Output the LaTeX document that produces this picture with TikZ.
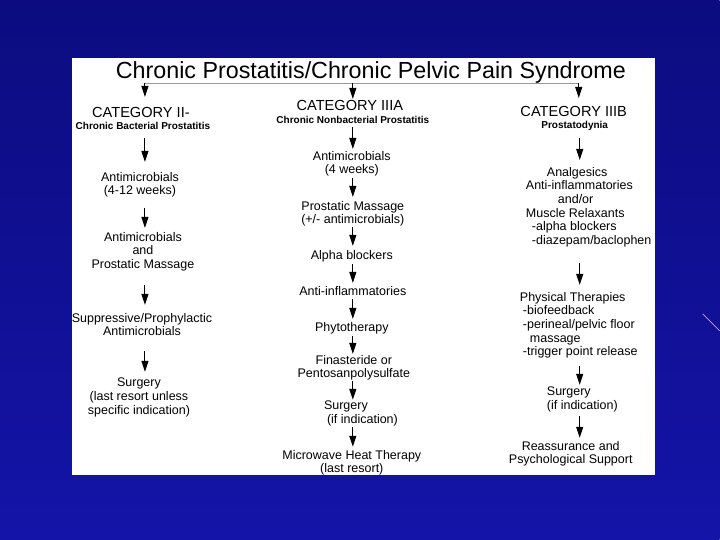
\documentclass[tikz,border=0pt]{standalone}
\usepackage{fontspec}
\setmainfont{Liberation Sans}
\usetikzlibrary{arrows.meta}

\definecolor{slidedark}{RGB}{12,12,128}
\definecolor{slidelight}{RGB}{20,20,168}
\definecolor{streak}{RGB}{205,160,235}

\begin{document}
\begin{tikzpicture}[x=1pt,y=-1pt,
    txt/.style={inner sep=0pt, anchor=north, align=center, font=\fontsize{12.5}{13.7}\selectfont},
    ltxt/.style={txt, anchor=north west, align=left},
    cat/.style={inner sep=0pt, anchor=north, font=\fontsize{14.6}{16}\selectfont},
    sub/.style={inner sep=0pt, anchor=north, font=\fontsize{10}{12}\selectfont\bfseries},
    arr/.style={line width=1.1pt, -{Triangle[length=11pt,width=7pt]}}]
    % slide background and white panel
    \shade [top color=slidedark, bottom color=slidelight] (0,0) rectangle (720,540);
    \draw [streak, line width=0.7pt] (703,314) -- (720,331);
    \fill [white] (72,58) rectangle (655,475);
    \useasboundingbox (0,0) rectangle (720,540);
    \begin{scope}
    \clip (72,58) rectangle (655,475);
    \node [anchor=base, font=\fontsize{23.3}{25}\selectfont] (title) at (371,79) {Chronic Prostatitis/Chronic Pelvic Pain Syndrome};
    \coordinate (c1) at (145,83);
    \coordinate (c2) at (353,83);
    \coordinate (c3) at (579,83);
    \coordinate (k1) at (145,0);
    \coordinate (k2) at (353,0);
    \coordinate (k3) at (580,0);
    \draw [gray!80, line width=0.8pt] (c1) -- (c3);
    % category II
    \node [cat] (cat1) at (141,107) {CATEGORY II-};
    \node [sub] (sub1) at (143,122) {Chronic Bacterial Prostatitis};
    \node [txt] (a1) at (140,172) {Antimicrobials\\(4-12 weeks)};
    \node [txt] (a2) at (143,232) {Antimicrobials\\and\\Prostatic Massage};
    \node [txt] (a3) at (142,313) {Suppressive/Prophylactic\\Antimicrobials};
    \node [txt] (a4) at (139,378) {Surgery\\(last resort unless\\specific indication)};
    % category IIIA
    \node [cat] (cat2) at (350,100) {CATEGORY IIIA};
    \node [sub] (sub2) at (353,116) {Chronic Nonbacterial Prostatitis};
    \node [txt] (b1) at (352,151) {Antimicrobials\\(4 weeks)};
    \node [txt] (b2) at (353,201) {Prostatic Massage\\(+/- antimicrobials)};
    \node [txt] (b3) at (352,250) {Alpha blockers};
    \node [txt] (b4) at (353,286) {Anti-inflammatories};
    \node [txt] (b5) at (352,322) {Phytotherapy};
    \node [txt] (b6) at (354,355) {Finasteride or\\Pentosanpolysulfate};
    \node [ltxt] (b7) at (324,401) {Surgery\\\hspace{3pt}(if indication)};
    \node [txt] (b8) at (352,450) {Microwave Heat Therapy\\(last resort)};
    % category IIIB
    \node [cat] (cat3) at (574,106) {CATEGORY IIIB};
    \node [sub] (sub3) at (575,121) {Prostatodynia};
    \node [ltxt] (d1) at (526,167) {\hspace{21pt}Analgesics\\Anti-inflammatories\\\hspace{32pt}and/or\\Muscle Relaxants\\\hspace{6pt}-alpha blockers\\\hspace{6pt}-diazepam/baclophen};
    \node [ltxt] (d2) at (520,292) {Physical Therapies\\\hspace{3pt}-biofeedback\\\hspace{3pt}-perineal/pelvic floor\\\hspace{10pt}massage\\\hspace{3pt}-trigger point release};
    \node [ltxt] (d3) at (547,387) {Surgery\\(if indication)};
    \node [txt] (d4) at (571,441) {Reassurance and\\Psychological Support};
    % arrows
    \draw [arr, shorten >=10pt] (c1) -- (cat1.north -| c1);
    \draw [arr, shorten >=1pt] (c2) -- (cat2.north -| c2);
    \draw [arr, shorten >=8pt] (c3) -- (cat3.north -| c3);
    \foreach \from/\to/\col/\s/\e in {sub1/a1/k1/8.5pt/10pt, a1/a2/k1/10pt/4pt, a2/a3/k1/14pt/8pt, a3/a4/k1/14.5pt/6pt,
        sub2/b1/k2/3.5pt/2pt, b1/b2/k2/1pt/4pt, b2/b3/k2/0.5pt/4pt, b3/b4/k2/2pt/3pt,
        b4/b5/k2/4pt/3pt, b5/b6/k2/2pt/1pt, b6/b7/k2/0.5pt/1pt, b7/b8/k2/1pt/3pt,
        sub3/d1/k3/7.5pt/7pt, d1/d2/k3/16pt/7pt, d2/d3/k3/7pt/2pt, d3/d4/k3/4pt/3pt}
      \draw [arr, shorten <=\s, shorten >=\e] (\from.south -| \col) -- (\to.north -| \col);
    \end{scope}
\end{tikzpicture}
\end{document}
